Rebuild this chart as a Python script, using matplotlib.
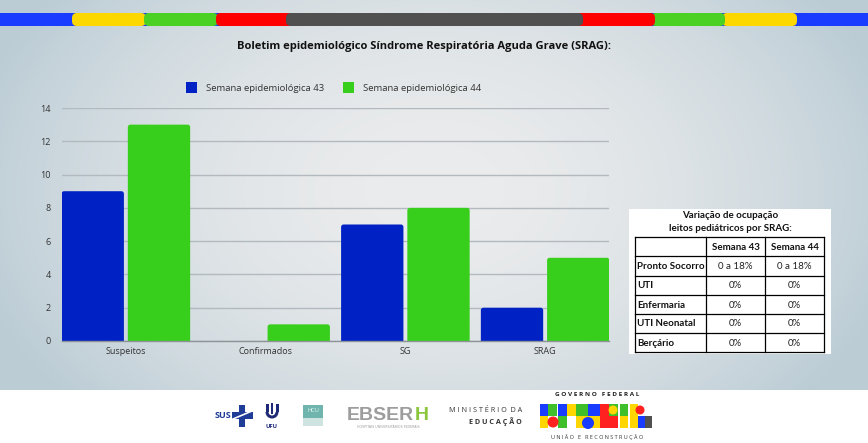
import numpy as np
import matplotlib
matplotlib.use('Agg')
import matplotlib.pyplot as plt
from matplotlib.patches import Rectangle, FancyBboxPatch, Circle, Wedge

# ============================================================================
# Data
# ============================================================================
TITLE = 'Boletim epidemiológico Síndrome Respiratória Aguda Grave (SRAG):'
categories = ['Suspeitos', 'Confirmados', 'SG', 'SRAG']
series_names = ['Semana epidemiológica 43', 'Semana epidemiológica 44']
week43 = [9, 0, 7, 2]
week44 = [13, 1, 8, 5]
y_ticks = [0, 2, 4, 6, 8, 10, 12, 14]

table_title = ['Variação de ocupação', 'leitos pediátricos por SRAG:']
table_cols = ['', 'Semana 43', 'Semana 44']
table_rows = ['Pronto Socorro', 'UTI', 'Enfermaria', 'UTI Neonatal', 'Berçário']
table_w43 = ['0 a 18%', '0%', '0%', '0%', '0%']
table_w44 = ['0 a 18%', '0%', '0%', '0%', '0%']

BLUE = '#0022c4'
GREEN = '#37cf1c'
FONT = 'Open Sans'
TFONT = 'Lato'

W, H = 868, 443
fig = plt.figure(figsize=(W / 100, H / 100), dpi=100)


def rect(x0, y0, x1, y1):
    return [x0 / W, 1 - y1 / H, (x1 - x0) / W, (y1 - y0) / H]


# ============================================================================
# Background: radial grey gradient + white footer
# ============================================================================
bg = fig.add_axes([0, 0, 1, 1], zorder=0)
yy, xx = np.mgrid[0:H, 0:W]
d = np.sqrt(((xx - 434) / 480.0) ** 2 + ((yy - 190) / 330.0) ** 2)
d = np.clip(d, 0, 1) ** 1.8
c_in = np.array([0xeb, 0xec, 0xed]) / 255
c_out = np.array([0xbb, 0xcc, 0xd5]) / 255
img = c_in[None, None, :] + (c_out - c_in)[None, None, :] * d[..., None]
bg.imshow(img, extent=(0, W, H, 0), aspect='auto')
bg.set_xlim(0, W)
bg.set_ylim(H, 0)
bg.axis('off')

# ============================================================================
# Bar chart (bars with slightly rounded tops)
# ============================================================================
ax_px = (62, 108, 609, 341)
ax = fig.add_axes(rect(*ax_px), zorder=2)
ax.patch.set_alpha(0)
x = np.arange(len(categories))
bw = 0.446
off = 0.237
xlo, xhi = -0.457, len(categories) - 1 + 0.457
ax.set_xlim(xlo, xhi)
ax.set_ylim(0, 14)
x_per_px = (xhi - xlo) / (ax_px[2] - ax_px[0])
y_per_px = 14.0 / (ax_px[3] - ax_px[1])
r = 2.5 * x_per_px
for vals, dx, c in [(week43, -off, BLUE), (week44, off, GREEN)]:
    for xi, v in zip(x, vals):
        if v <= 0:
            continue
        p = FancyBboxPatch((xi + dx - bw / 2 + r, -0.5 + r * y_per_px / x_per_px),
                           bw - 2 * r, v + 0.5 - 2 * r * y_per_px / x_per_px,
                           boxstyle=f'round,pad={r},rounding_size={r}',
                           mutation_aspect=y_per_px / x_per_px,
                           color=c, lw=0, zorder=3)
        ax.add_patch(p)
ax.set_yticks(y_ticks)
ax.set_xticks(x)
ax.set_xticklabels(categories)
ax.tick_params(length=0, labelsize=6.5, colors='#333333')
ax.tick_params(axis='y', pad=8)
ax.tick_params(axis='x', pad=4)
for lab in ax.get_xticklabels() + ax.get_yticklabels():
    lab.set_fontfamily(FONT)
ax.grid(axis='y', color='#b3babf', linewidth=1, zorder=1)
for s in ['top', 'right', 'left']:
    ax.spines[s].set_visible(False)
ax.spines['bottom'].set_color('#8d9397')
ax.spines['bottom'].set_linewidth(1)
ax.spines['bottom'].set_zorder(4)

# ============================================================================
# Decorations in pixel coordinates
# ============================================================================
deco = fig.add_axes([0, 0, 1, 1], zorder=3)
deco.set_xlim(0, W)
deco.set_ylim(H, 0)
deco.axis('off')
deco.patch.set_alpha(0)

# top stripe
deco.add_patch(Rectangle((0, 13), W, 13, color='#1a3cff', lw=0))
stripe = [(72, 146, '#fdd800'), (144, 218, '#4bd024'), (216, 300, '#ff0000'),
          (722, 797, '#fdd800'), (651, 725, '#4bd024'), (570, 655, '#ff0000'),
          (286, 583, '#505050')]
for x0, x1, c in stripe:
    deco.add_patch(FancyBboxPatch((x0, 13), x1 - x0, 13,
                                  boxstyle='round,pad=0,rounding_size=5',
                                  color=c, lw=0))

# title
deco.text(424, 46, TITLE, ha='center', va='center', fontsize=8,
          fontweight='bold', family=FONT, color='#111111')

# legend
for (lx, name, c) in [(186, series_names[0], BLUE), (343, series_names[1], GREEN)]:
    deco.add_patch(Rectangle((lx, 82), 11, 11, color=c, lw=0))
    deco.text(lx + 20, 88, name, ha='left', va='center', fontsize=6.8,
              family=FONT, color='#333333')

# table box
TFS = 7
deco.add_patch(Rectangle((629, 209), 202, 145, color='white', lw=0))
deco.text(730, 215.5, table_title[0], ha='center', va='center', fontsize=TFS,
          fontweight='bold', family=TFONT, color='#111111')
deco.text(730, 228, table_title[1], ha='center', va='center', fontsize=TFS,
          fontweight='bold', family=TFONT, color='#111111')
col_x = [635, 706, 765, 824]
row_y = [237, 256, 276, 295, 314, 333, 352]
for cx in col_x:
    deco.plot([cx, cx], [row_y[0], row_y[-1]], color='black', lw=0.9)
for ry in row_y:
    deco.plot([col_x[0], col_x[-1]], [ry, ry], color='black', lw=0.9)
for j in (1, 2):
    deco.text((col_x[j] + col_x[j + 1]) / 2, (row_y[0] + row_y[1]) / 2 + 0.5,
              table_cols[j], ha='center', va='center', fontsize=TFS,
              fontweight='bold', family=TFONT, color='#111111')
for i, name in enumerate(table_rows):
    yc = (row_y[i + 1] + row_y[i + 2]) / 2 + 0.5
    deco.text(col_x[0] + 2, yc, name, ha='left', va='center', fontsize=TFS,
              fontweight='bold', family=TFONT, color='#111111')
    deco.text((col_x[1] + col_x[2]) / 2, yc, table_w43[i], ha='center',
              va='center', fontsize=TFS, family=TFONT, color='#222222')
    deco.text((col_x[2] + col_x[3]) / 2, yc, table_w44[i], ha='center',
              va='center', fontsize=TFS, family=TFONT, color='#222222')

# footer
deco.add_patch(Rectangle((0, 390), W, 53, color='white', lw=0))

# SUS
deco.text(215, 416, 'SUS', ha='left', va='center', fontsize=6.5,
          fontweight='bold', family=FONT, color='#1f3c97')
deco.add_patch(Rectangle((239, 405), 6, 22, color='#1f3c97', lw=0))
deco.add_patch(Rectangle((232, 412), 21, 7, color='#1f3c97', lw=0))
deco.plot([233, 252], [419, 411], color='white', lw=1.2)

# UFU
NAVY = '#1e2a78'
deco.add_patch(Wedge((272, 412), 6.5, 0, 180, width=3, color=NAVY, lw=0))
deco.add_patch(Rectangle((265.5, 404), 3, 8, color=NAVY, lw=0))
deco.add_patch(Rectangle((275.5, 404), 3, 8, color=NAVY, lw=0))
deco.add_patch(Rectangle((271, 403), 2, 11, color=NAVY, lw=0))
deco.text(272, 426, 'UFU', ha='center', va='center', fontsize=4.2,
          fontweight='bold', family=FONT, color=NAVY)

# HC-UFU
deco.add_patch(Rectangle((303, 405), 20, 13, color='#6fb5ad', lw=0))
deco.text(313, 411, 'HCU', ha='center', va='center', fontsize=4,
          family='DejaVu Sans', color='#dff2ef')
deco.add_patch(Rectangle((303, 418), 20, 8, color='#cfe3e0', lw=0))

# EBSERH
deco.text(347, 415, 'EBSER', ha='left', va='center', fontsize=14,
          fontweight='bold', family='Liberation Sans', color='#9d9d9d')
deco.text(415, 415, 'H', ha='left', va='center', fontsize=14,
          fontweight='bold', family='Liberation Sans', color='#8cc63f')
deco.text(388, 427, 'HOSPITAIS UNIVERSITÁRIOS FEDERAIS', ha='center',
          va='center', fontsize=2.3, family='DejaVu Sans', color='#9d9d9d')

# Ministério da Educação
deco.text(522, 410, 'M I N I S T É R I O  D A', ha='right', va='center',
          fontsize=5.2, family=FONT, color='#333333')
deco.text(522, 422, 'E D U C A Ç Ã O', ha='right', va='center',
          fontsize=5.2, fontweight='bold', family=FONT, color='#333333')

# Governo Federal / Brasil
deco.text(597, 395, 'G O V E R N O   F E D E R A L', ha='center', va='center',
          fontsize=4.6, fontweight='bold', family=FONT, color='#222222')
deco.text(597, 437, 'U N I Ã O   E   R E C O N S T R U Ç Ã O', ha='center',
          va='center', fontsize=4, family=FONT, color='#333333')
blocks = [(540, 404, 8, 12, '#1a3cff'), (548, 404, 9, 12, '#3fbf2a'),
          (540, 416, 8, 12, '#ffd600'), (558, 404, 9, 12, '#1a3cff'),
          (567, 404, 9, 12, '#ffd600'), (558, 416, 9, 12, '#3fbf2a'),
          (576, 404, 12, 12, '#3fbf2a'), (588, 404, 12, 12, '#1a3cff'),
          (576, 416, 24, 12, '#ffd600'), (600, 404, 9, 12, '#ff2020'),
          (609, 404, 9, 12, '#3fbf2a'), (600, 416, 18, 12, '#ff2020'),
          (620, 404, 8, 12, '#3fbf2a'), (620, 416, 8, 12, '#ffd600'),
          (630, 404, 8, 24, '#ffd600'), (638, 416, 7, 12, '#1a3cff'),
          (645, 416, 7, 12, '#505050')]
for bx, by, bwid, bh, c in blocks:
    deco.add_patch(Rectangle((bx, by), bwid, bh, color=c, lw=0))
deco.add_patch(Circle((553, 422), 5.5, color='#ff2020', lw=0))
deco.add_patch(Circle((588, 423), 6, color='#1a3cff', lw=0))
deco.add_patch(Circle((613, 410), 4.5, color='#ffd600', lw=0))
deco.add_patch(Circle((640, 410), 4.5, color='#ff2020', lw=0))

fig.savefig('out.png', dpi=100)
